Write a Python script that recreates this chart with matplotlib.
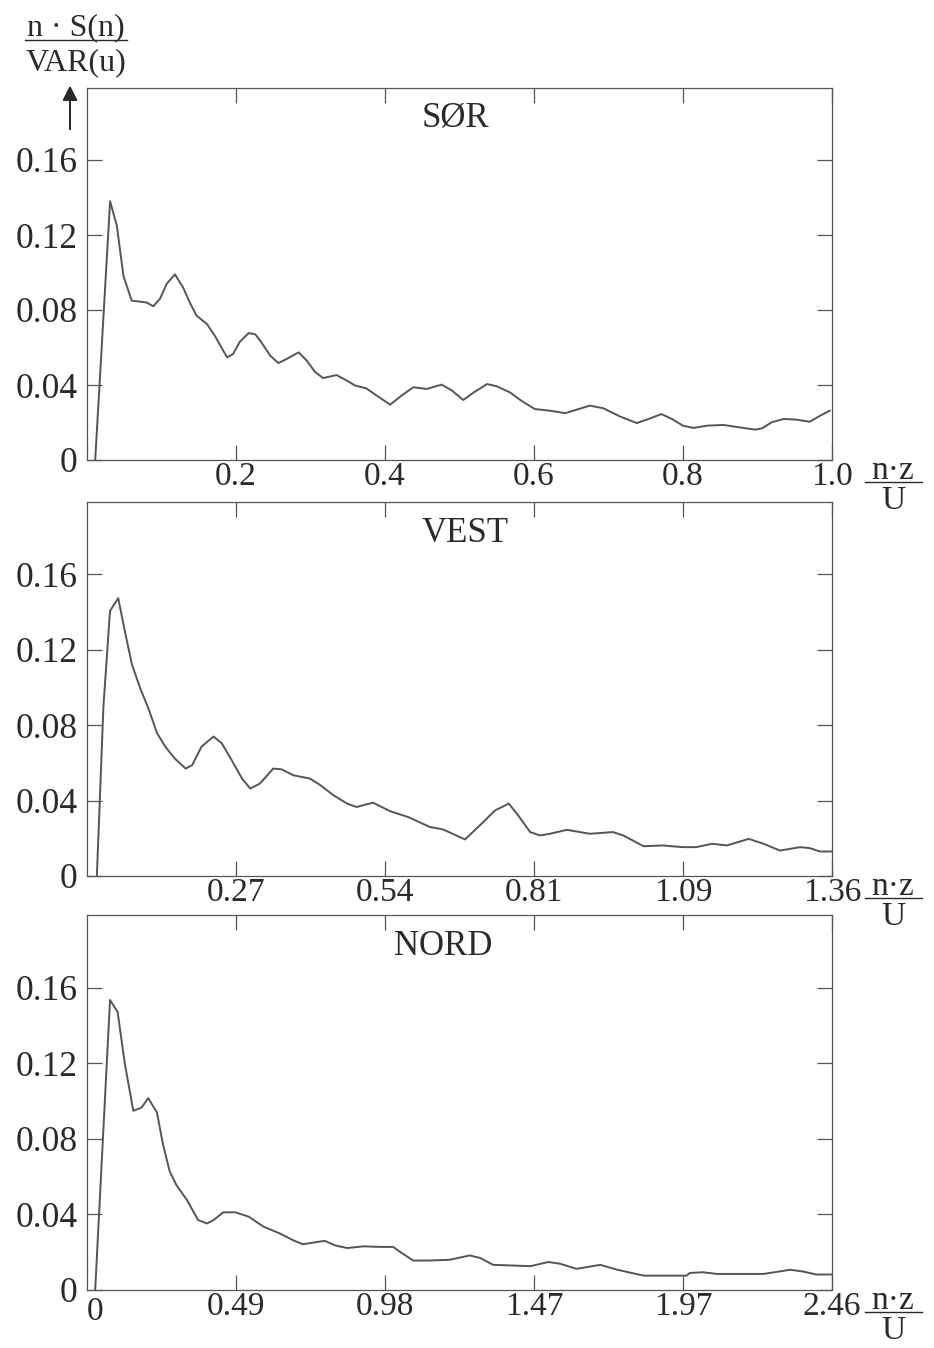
import matplotlib
matplotlib.use('Agg')
import matplotlib.pyplot as plt
from matplotlib.lines import Line2D

plt.rcParams['font.family'] = ['Liberation Serif', 'DejaVu Serif']

# ---------------- data ----------------
titles = ['SØR', 'VEST', 'NORD']
x_max = [1.0, 1.36, 2.46]

sor_x = [0.011, 0.031, 0.040, 0.049, 0.060, 0.080, 0.089, 0.098, 0.107, 0.118,
         0.129, 0.138, 0.147, 0.161, 0.172, 0.188, 0.196, 0.205, 0.217, 0.226,
         0.234, 0.246, 0.257, 0.268, 0.284, 0.295, 0.306, 0.317, 0.335, 0.349,
         0.360, 0.375, 0.389, 0.407, 0.422, 0.438, 0.456, 0.476, 0.490, 0.505,
         0.519, 0.537, 0.550, 0.568, 0.583, 0.601, 0.621, 0.642, 0.657, 0.675,
         0.693, 0.715, 0.738, 0.756, 0.771, 0.785, 0.800, 0.814, 0.832, 0.854,
         0.876, 0.897, 0.906, 0.919, 0.935, 0.953, 0.970, 0.984, 0.997]
sor_y = [0.0, 0.138, 0.125, 0.098, 0.085, 0.084, 0.082, 0.086, 0.094, 0.099,
         0.092, 0.084, 0.077, 0.0725, 0.066, 0.0547, 0.0565, 0.063, 0.0677, 0.067,
         0.0628, 0.0556, 0.0517, 0.0539, 0.0574, 0.053, 0.047, 0.0437, 0.0453, 0.0423,
         0.0397, 0.0382, 0.0343, 0.0295, 0.0343, 0.0388, 0.0379, 0.0402, 0.037, 0.032,
         0.036, 0.0405, 0.0393, 0.036, 0.0316, 0.0272, 0.0263, 0.025, 0.0268, 0.029,
         0.0276, 0.0233, 0.0197, 0.0222, 0.0245, 0.0219, 0.0183, 0.0171, 0.0183, 0.0187,
         0.0174, 0.0162, 0.0169, 0.0201, 0.0219, 0.0215, 0.0204, 0.0236, 0.0263]

vest_x = [0.018, 0.030, 0.042, 0.057, 0.069, 0.082, 0.097, 0.112, 0.128, 0.143,
          0.160, 0.180, 0.192, 0.209, 0.231, 0.246, 0.264, 0.283, 0.298, 0.316,
          0.340, 0.355, 0.377, 0.407, 0.426, 0.450, 0.475, 0.492, 0.522, 0.554,
          0.586, 0.626, 0.650, 0.690, 0.717, 0.745, 0.770, 0.787, 0.809, 0.827,
          0.845, 0.876, 0.918, 0.960, 0.979, 1.016, 1.051, 1.088, 1.112, 1.141,
          1.168, 1.208, 1.235, 1.265, 1.302, 1.319, 1.338, 1.36]
vest_y = [0.0, 0.090, 0.1406, 0.1474, 0.130, 0.1122, 0.0997, 0.089, 0.0757, 0.0686,
          0.0624, 0.057, 0.0588, 0.0686, 0.074, 0.0704, 0.0615, 0.0517, 0.0464, 0.0491,
          0.057, 0.0566, 0.0534, 0.0517, 0.0482, 0.0428, 0.0384, 0.0366, 0.0389, 0.0343,
          0.0313, 0.026, 0.0247, 0.0194, 0.0268, 0.0348, 0.0384, 0.0322, 0.0233, 0.0215,
          0.0224, 0.0245, 0.0224, 0.0233, 0.0215, 0.0158, 0.0162, 0.0153, 0.0153, 0.0171,
          0.0162, 0.0197, 0.0171, 0.0135, 0.0153, 0.0148, 0.013, 0.013]

nord_x = [0.027, 0.076, 0.101, 0.125, 0.153, 0.180, 0.202, 0.231, 0.251, 0.273,
          0.295, 0.330, 0.367, 0.396, 0.418, 0.450, 0.490, 0.534, 0.583, 0.637,
          0.681, 0.713, 0.748, 0.785, 0.819, 0.859, 0.913, 0.967, 1.011, 1.038,
          1.077, 1.132, 1.198, 1.264, 1.299, 1.341, 1.397, 1.464, 1.523, 1.562,
          1.616, 1.695, 1.749, 1.838, 1.914, 1.980, 1.990, 2.034, 2.079, 2.167,
          2.234, 2.322, 2.364, 2.408, 2.46]
nord_y = [0.0, 0.1534, 0.1472, 0.1196, 0.0948, 0.0965, 0.1015, 0.0939, 0.077, 0.0628,
          0.0556, 0.0476, 0.037, 0.0352, 0.037, 0.0411, 0.0411, 0.0388, 0.0335, 0.0299,
          0.0263, 0.0242, 0.0251, 0.026, 0.0236, 0.0222, 0.0231, 0.0228, 0.0228, 0.0197,
          0.0156, 0.0156, 0.016, 0.0183, 0.0169, 0.0133, 0.013, 0.0126, 0.0148, 0.0139,
          0.0112, 0.0133, 0.0108, 0.0076, 0.0076, 0.0076, 0.009, 0.0094, 0.0085, 0.0085,
          0.0085, 0.0107, 0.0098, 0.0082, 0.0082]

sor_ticks = [0.2, 0.4, 0.6, 0.8, 1.0]
sor_labels = ['0.2', '0.4', '0.6', '0.8', '1.0']
vest_ticks = [0.272, 0.544, 0.816, 1.088, 1.36]
vest_labels = ['0.27', '0.54', '0.81', '1.09', '1.36']
nord_ticks = [0.492, 0.984, 1.476, 1.968, 2.46]
nord_labels = ['0.49', '0.98', '1.47', '1.97', '2.46']

y_ticks = [0, 0.04, 0.08, 0.12, 0.16]
y_labels = ['0', '0.04', '0.08', '0.12', '0.16']

# ---------------- layout ----------------
W, H = 934, 1348
fig = plt.figure(figsize=(W / 100, H / 100), dpi=100)

line_col = '#555555'
axis_col = '#555555'
text_col = '#2a2a2a'
FS = 24
FS_Y = 25.5
FS_T = 25

left_px, right_px = 87, 832
panels_px = [(88, 460), (502, 876), (915, 1290)]
title_pos = [(0.494, 0.919), (0.507, 0.917), (0.478, 0.917)]
series = [(sor_x, sor_y, sor_ticks, sor_labels),
          (vest_x, vest_y, vest_ticks, vest_labels),
          (nord_x, nord_y, nord_ticks, nord_labels)]

for i, (xs, ys, xt, xl) in enumerate(series):
    top, bot = panels_px[i]
    ax = fig.add_axes([left_px / W, 1 - bot / H, (right_px - left_px) / W, (bot - top) / H])
    ax.plot(xs, ys, color=line_col, lw=1.4, solid_joinstyle='round')
    ax.set_xlim(0, x_max[i])
    ax.set_ylim(0, 0.1984)
    ax.set_xticks(xt)
    ax.set_xticklabels(xl)
    ax.set_yticks(y_ticks)
    ax.set_yticklabels(y_labels)
    ax.tick_params(axis='both', direction='in', length=11, width=0.9,
                   colors=axis_col, labelcolor=text_col)
    ax.tick_params(axis='x', top=True, pad=1, labelsize=FS)
    ax.tick_params(axis='y', right=True, pad=7, labelsize=FS_Y)
    for s in ax.spines.values():
        s.set_color(axis_col)
        s.set_linewidth(0.9)
    ax.text(title_pos[i][0], title_pos[i][1], titles[i], transform=ax.transAxes,
            ha='center', va='center', fontsize=FS_T, color=text_col)

    # x-axis label fraction n·z / U
    cx = 893
    fig.text(cx / W, 1 - (bot + 19) / H, 'n·z', ha='center', va='baseline',
             fontsize=FS, color=text_col)
    fig.add_artist(Line2D([865 / W, 922 / W], [1 - (bot + 22) / H] * 2,
                          color=text_col, lw=1.0, transform=fig.transFigure))
    fig.text(cx / W, 1 - (bot + 49) / H, 'U', ha='center', va='baseline',
             fontsize=FS, color=text_col)
    if i == 2:
        ax.annotate('0', xy=(0, 0), xycoords='axes fraction', xytext=(8, -6),
                    textcoords='offset pixels', ha='center', va='top',
                    fontsize=FS, color=text_col)

# y-axis label fraction n · S(n) / VAR(u)
fig.text(76 / W, 1 - 35 / H, 'n · S(n)', ha='center', va='baseline',
         fontsize=FS - 1, color=text_col)
fig.add_artist(Line2D([25 / W, 127 / W], [1 - 39.5 / H] * 2,
                      color=text_col, lw=1.0, transform=fig.transFigure))
fig.text(76 / W, 1 - 70 / H, 'VAR(u)', ha='center', va='baseline',
         fontsize=FS - 1, color=text_col)
fig.add_artist(plt.annotate('', xy=(70 / W, 1 - 83 / H), xycoords='figure fraction',
                            xytext=(70 / W, 1 - 132 / H), textcoords='figure fraction',
                            arrowprops=dict(arrowstyle='-|>', color=text_col, lw=1.3,
                                            mutation_scale=22)))

fig.savefig('out.png', dpi=100, facecolor='white')
